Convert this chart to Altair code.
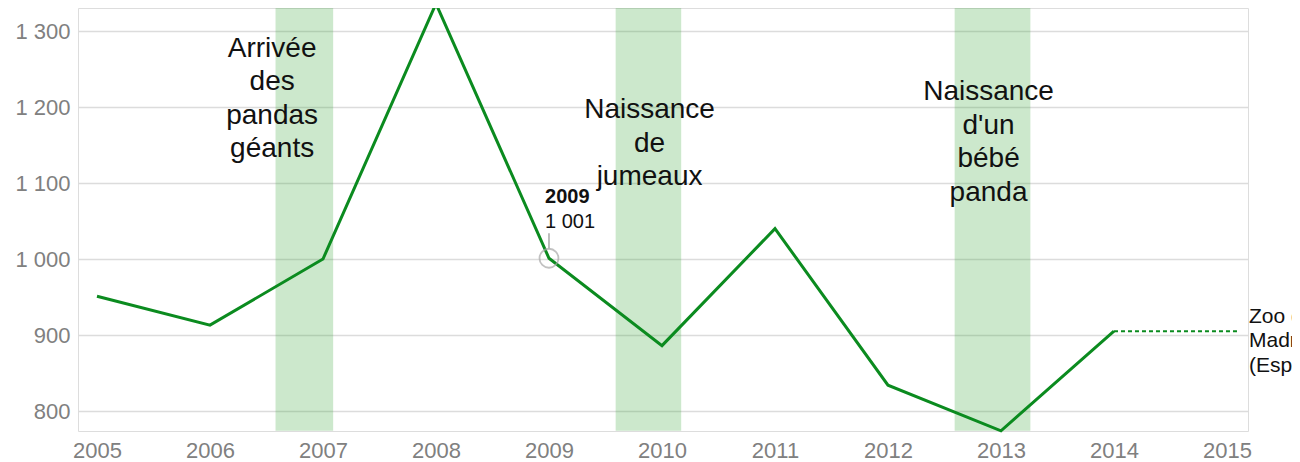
import altair as alt
import pandas as pd

# ---- data ----
years = [2005, 2006, 2007, 2008, 2009, 2010, 2011, 2012, 2013, 2014]
visitors = [951, 913, 1000, 1336, 1001, 886, 1040, 834, 774, 905]

band_start = [2006.58, 2009.59, 2012.59]
band_end = [2007.09, 2010.17, 2013.26]

event_labels = ["Arrivée\ndes\npandas\ngéants", "Naissance\nde\njumeaux", "Naissance\nd'un\nbébé\npanda"]
event_x = [2006.55, 2009.89, 2012.89]
event_y = [1266, 1185.5, 1209]

series_label = "Zoo de\nMadrid\n(España)"
tick_years = list(range(2005, 2016))

FONT = "Liberation Sans"
GREEN = "#0b8b1f"
GREY = "#808080"

line_df = pd.DataFrame({"year": years, "visitors": visitors})
band_df = pd.DataFrame({
    "start": band_start, "end": band_end,
    "top": [max(visitors)] * 3, "bottom": [min(visitors)] * 3,
})
event_df = pd.DataFrame({"x": event_x, "y": event_y, "label": event_labels})
dot_df = pd.DataFrame({"year": [years[-1], 2015.115], "visitors": [visitors[-1]] * 2})
end_df = pd.DataFrame({"x": [2015.195], "y": [916], "label": [series_label]})
tip_point = pd.DataFrame({"year": [2009], "visitors": [1001]})
tip_year = pd.DataFrame({"x": [2008.965], "y": [1073.7], "label": ["2009"]})
tip_value = pd.DataFrame({"x": [2008.965], "y": [1040.8], "label": ["1 001"]})
tip_rule = pd.DataFrame({"x": [2009.0], "y": [1034], "y2": [1014]})

xscale = alt.Scale(domain=[2004.832, 2015.186], nice=False, zero=False)
yscale = alt.Scale(domain=[773.7, 1330.3], nice=False, zero=False)

x_axis = alt.Axis(values=tick_years, format="d", grid=False, ticks=False, domain=False,
                  labelFont=FONT, labelFontSize=22, labelColor=GREY, labelPadding=26,
                  labelBaseline="alphabetic", labelFlush=False, title=None)
y_axis = alt.Axis(values=[800, 900, 1000, 1100, 1200, 1300], grid=True, gridColor="#dcdcdc",
                  gridWidth=1.5, ticks=False, domain=False, labelFont=FONT, labelFontSize=22,
                  labelColor=GREY, labelPadding=8, labelFlush=False, title=None,
                  labelExpr="replace(format(datum.value, ','), ',', ' ')")

bands = alt.Chart(band_df).mark_rect(color="rgb(51,163,51)", opacity=0.25).encode(
    x=alt.X("start:Q", scale=xscale, axis=x_axis),
    x2="end:Q",
    y=alt.Y("top:Q", scale=yscale, axis=y_axis),
    y2="bottom:Q",
)

line = alt.Chart(line_df).mark_line(color=GREEN, strokeWidth=3).encode(
    x=alt.X("year:Q", scale=xscale),
    y=alt.Y("visitors:Q", scale=yscale),
)

dotted = alt.Chart(dot_df).mark_line(color=GREEN, strokeWidth=2, strokeDash=[4, 3]).encode(
    x=alt.X("year:Q", scale=xscale),
    y=alt.Y("visitors:Q", scale=yscale),
)

events = alt.Chart(event_df).mark_text(font=FONT, fontSize=28, lineHeight=33.5, align="center",
                                       baseline="alphabetic", color="#111111", lineBreak="\n").encode(
    x=alt.X("x:Q", scale=xscale),
    y=alt.Y("y:Q", scale=yscale),
    text="label:N",
)

end_label = alt.Chart(end_df).mark_text(font=FONT, fontSize=21, lineHeight=24.5, align="left",
                                        baseline="alphabetic", color="#111111", lineBreak="\n").encode(
    x=alt.X("x:Q", scale=xscale),
    y=alt.Y("y:Q", scale=yscale),
    text="label:N",
)

tip_circle = alt.Chart(tip_point).mark_point(shape="circle", size=360, filled=False,
                                             stroke="#a8a8a8", strokeWidth=1.8).encode(
    x=alt.X("year:Q", scale=xscale),
    y=alt.Y("visitors:Q", scale=yscale),
)

tip_line = alt.Chart(tip_rule).mark_rule(color="#a8a8a8", strokeWidth=1.5).encode(
    x=alt.X("x:Q", scale=xscale),
    y=alt.Y("y:Q", scale=yscale),
    y2="y2:Q",
)

tip_year_text = alt.Chart(tip_year).mark_text(font=FONT, fontSize=20, fontWeight="bold", align="left",
                                              baseline="alphabetic", color="#111111").encode(
    x=alt.X("x:Q", scale=xscale),
    y=alt.Y("y:Q", scale=yscale),
    text="label:N",
)

tip_value_text = alt.Chart(tip_value).mark_text(font=FONT, fontSize=20, align="left",
                                                baseline="alphabetic", color="#111111").encode(
    x=alt.X("x:Q", scale=xscale),
    y=alt.Y("y:Q", scale=yscale),
    text="label:N",
)

chart = alt.layer(bands, line, dotted, events, end_label, tip_circle, tip_line,
                  tip_year_text, tip_value_text).properties(
    width=1170, height=423,
    autosize=alt.AutoSizeParams(type="none"),
    padding={"left": 70, "top": 0, "right": 44, "bottom": 31},
).configure_view(stroke=None).configure(background="white")

chart.save("out.html", embed_options={"renderer": "svg", "actions": False})
